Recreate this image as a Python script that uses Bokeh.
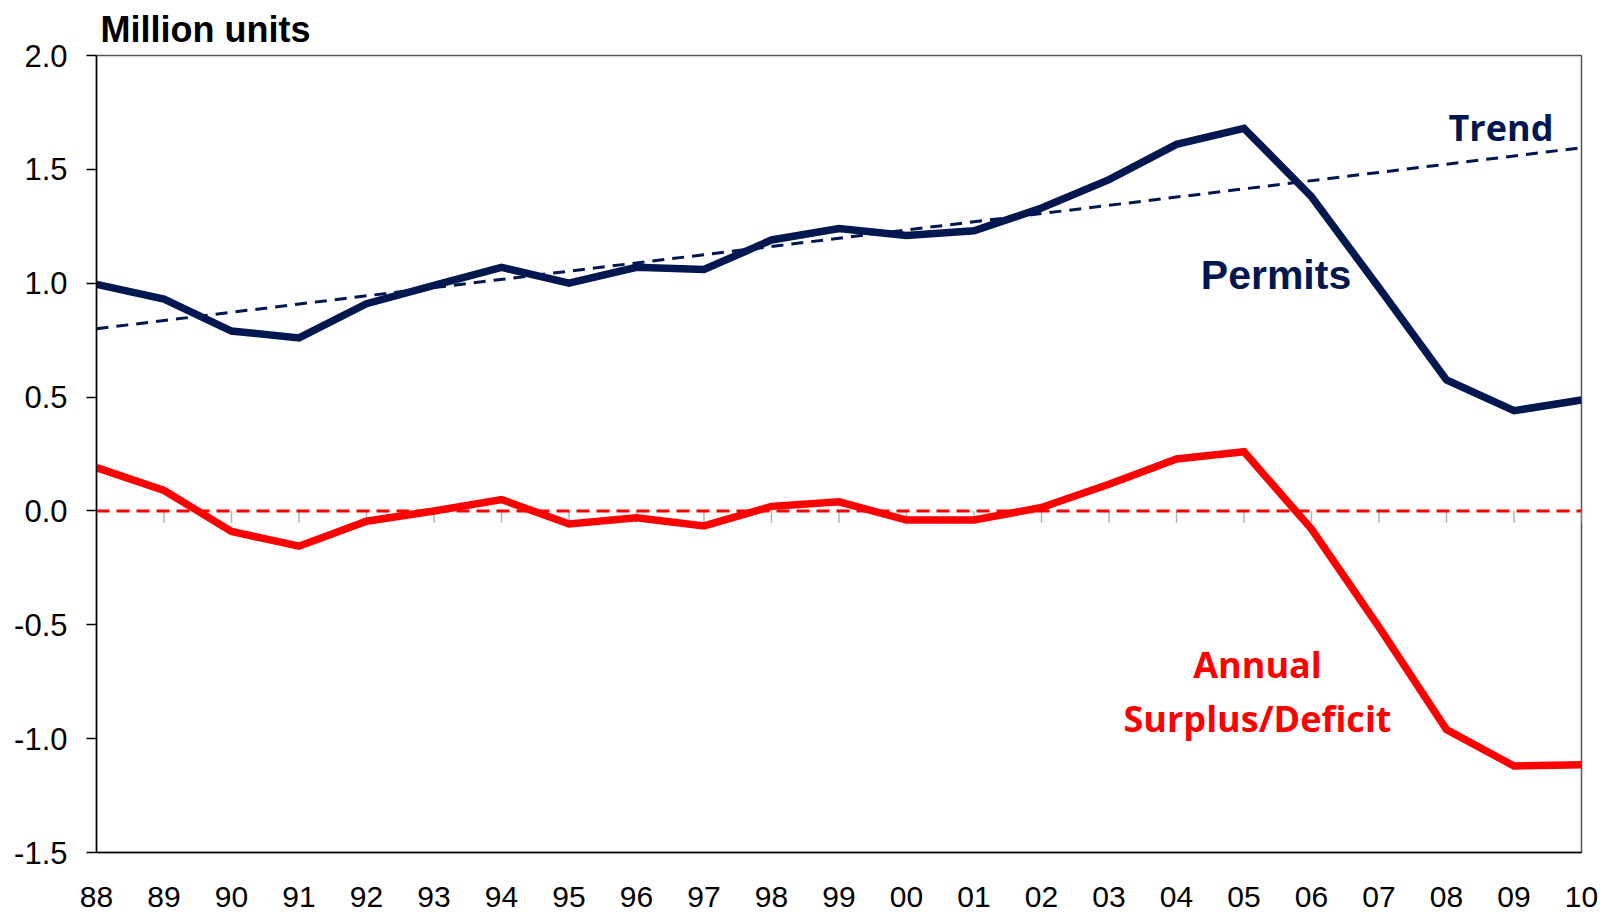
from bokeh.plotting import figure
from bokeh.models import FixedTicker, NumeralTickFormatter, Span
from bokeh.core.properties import value
from bokeh.embed import file_html
from bokeh.resources import INLINE

# ---- data ----
years = list(range(1988, 2011))
year_labels = ["88", "89", "90", "91", "92", "93", "94", "95", "96", "97", "98", "99",
               "00", "01", "02", "03", "04", "05", "06", "07", "08", "09", "10"]
permits = [0.995, 0.93, 0.79, 0.76, 0.91, 0.99, 1.07, 1.00, 1.07, 1.06, 1.19, 1.24,
           1.21, 1.23, 1.33, 1.455, 1.61, 1.68, 1.38, 0.98, 0.575, 0.44, 0.487]
surplus = [0.19, 0.09, -0.09, -0.155, -0.045, 0.0, 0.05, -0.057, -0.03, -0.066, 0.02, 0.04,
           -0.04, -0.04, 0.015, 0.117, 0.228, 0.26, -0.08, -0.51, -0.96, -1.12, -1.115]
trend_years = [1988, 2010]
trend_vals = [0.80, 1.595]
y_ticks = [-1.5, -1.0, -0.5, 0.0, 0.5, 1.0, 1.5, 2.0]

NAVY = "#00184f"
RED = "#ff0000"

p = figure(width=1606, height=914, output_backend="svg", toolbar_location=None,
           x_range=(1988, 2010), y_range=(-1.5, 2.0),
           min_border_left=96, min_border_right=25, min_border_top=54, min_border_bottom=62,
           background_fill_color="white", border_fill_color="white")
p.grid.visible = False
p.outline_line_color = "#555555"
p.outline_line_width = 1.5

p.title.text = "Million units"
p.title.text_font = "Liberation Sans"
p.title.text_font_size = "36px"
p.title.text_font_style = "bold"
p.title.text_color = "black"
p.title.align = "left"
p.title.offset = 4
p.title.standoff = 12

# left axis
ya = p.yaxis[0]
ya.ticker = FixedTicker(ticks=y_ticks)
ya.formatter = NumeralTickFormatter(format="0.0")
ya.major_label_text_font = "Liberation Sans"
ya.major_label_text_font_size = "31px"
ya.major_label_text_color = "black"
ya.major_label_standoff = 19
ya.axis_line_color = "black"
ya.axis_line_width = 1.5
ya.major_tick_line_color = "black"
ya.major_tick_line_width = 1.5
ya.major_tick_out = 10
ya.major_tick_in = 0
ya.minor_tick_line_color = None

# bottom axis (labels only, line at -1.5)
xa = p.xaxis[0]
xa.ticker = FixedTicker(ticks=years)
xa.major_label_overrides = {y: l for y, l in zip(years, year_labels)}
xa.major_label_text_font = "Liberation Sans"
xa.major_label_text_font_size = "30px"
xa.major_label_text_color = "black"
xa.major_label_text_line_height = 0.8
xa.major_label_standoff = 34
xa.major_tick_out = 0
xa.major_tick_in = 0
xa.minor_tick_line_color = None
xa.axis_line_color = "black"
xa.axis_line_width = 1.5

# gray category ticks hanging from the zero line
p.segment(x0=years, y0=[0.0] * len(years), x1=years, y1=[-0.052] * len(years),
          line_color="#b5b5b5", line_width=1.5)

# zero line
p.add_layout(Span(location=0.0, dimension="width", line_color=RED,
                  line_width=3, line_dash="13 7"))

# trend
p.line(trend_years, trend_vals, line_color=NAVY, line_width=3, line_dash="12 8")

# series
p.line(years, permits, line_color=NAVY, line_width=7.5, line_join="miter")
p.line(years, surplus, line_color=RED, line_width=7.5, line_join="miter")

# labels
p.text(x=[2008.03], y=[1.685], text=["Trend"], text_font=value("Open Sans"),
       text_font_style="bold", text_font_size="36px", text_color=NAVY,
       text_align="left", text_baseline="alphabetic")
p.text(x=[2004.36], y=[1.038], text=["Permits"], text_font=value("Liberation Sans"),
       text_font_style="bold", text_font_size="41px", text_color=NAVY,
       text_align="left", text_baseline="alphabetic")
p.text(x=[2005.2, 2005.2], y=[-0.676, -0.912], text=["Annual", "Surplus/Deficit"],
       text_font=value("Open Sans"), text_font_style="bold", text_font_size="36px",
       text_color=RED, text_align="center", text_baseline="alphabetic")

open("out.html", "w").write(file_html(p, INLINE))
